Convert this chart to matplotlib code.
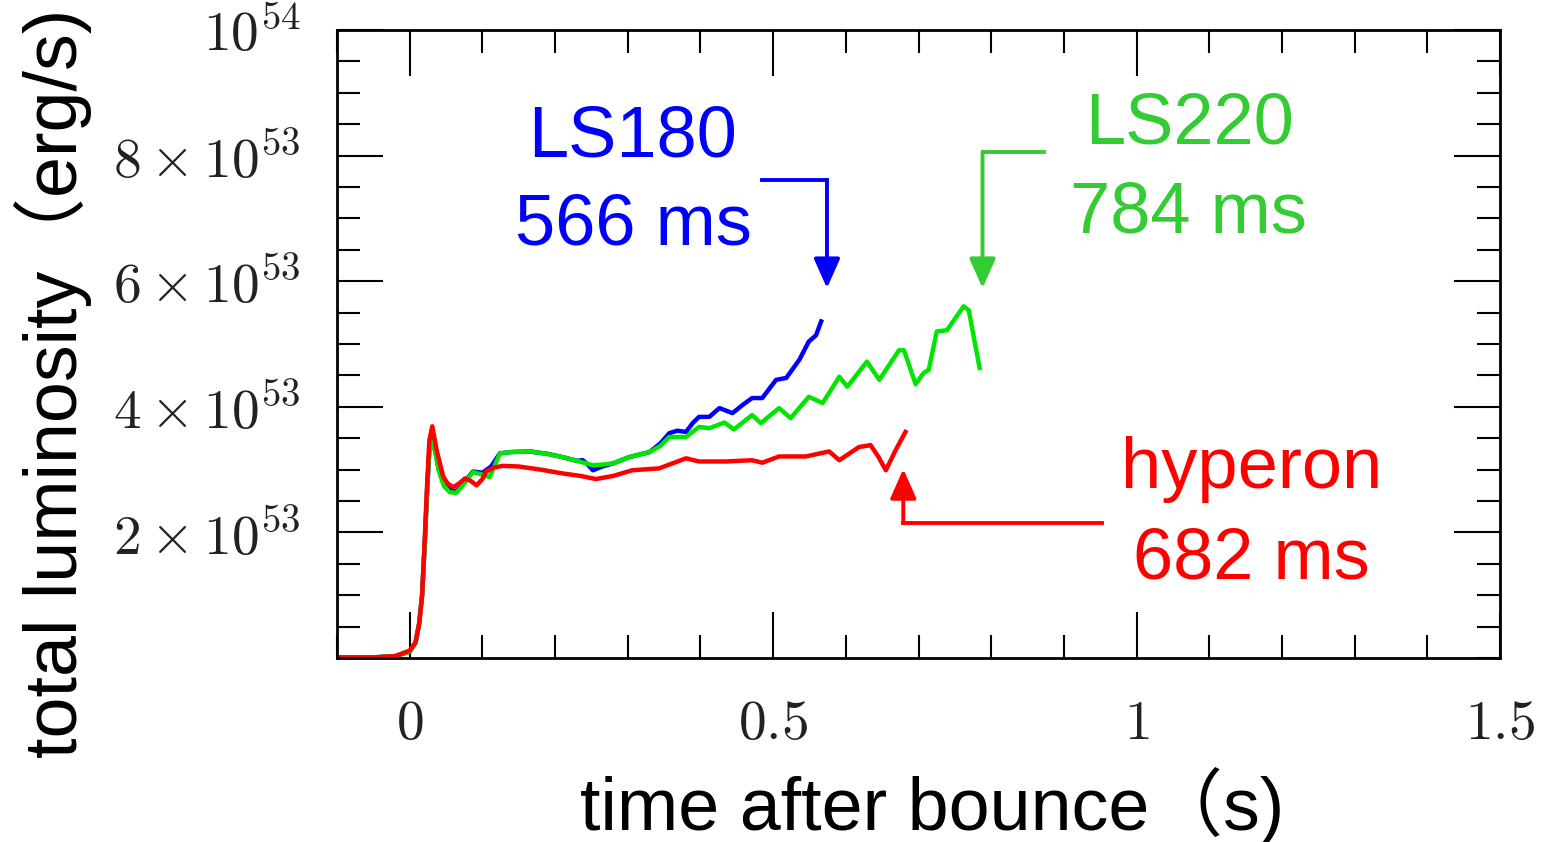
import matplotlib
matplotlib.use('Agg')
import matplotlib.pyplot as plt
from matplotlib.ticker import MultipleLocator, FixedLocator, FixedFormatter

plt.rcParams['mathtext.fontset'] = 'cm'
sans = ['Liberation Sans', 'Noto Sans CJK JP', 'DejaVu Sans']

# time after bounce (s) and total luminosity (1e53 erg/s)
t_ls180 = [-0.1, -0.05, -0.02, 0.0, 0.008, 0.013, 0.017, 0.021, 0.024, 0.027,
           0.031, 0.035, 0.04, 0.047, 0.055, 0.064, 0.075, 0.087, 0.1, 0.112,
           0.124, 0.14, 0.165, 0.19, 0.21, 0.23, 0.238, 0.245, 0.252, 0.265,
           0.28, 0.302, 0.33, 0.345, 0.357, 0.368, 0.38, 0.39, 0.398, 0.412,
           0.426, 0.444, 0.458, 0.471, 0.485, 0.504, 0.518, 0.536, 0.549,
           0.559, 0.566]
L_ls180 = [0.01, 0.01, 0.03, 0.10, 0.25, 0.55, 1.0, 1.9, 2.7, 3.3,
           3.48, 3.3, 3.0, 2.78, 2.68, 2.65, 2.8, 2.97, 2.95, 3.05,
           3.26, 3.28, 3.29, 3.25, 3.2, 3.14, 3.15, 3.08, 2.99, 3.05,
           3.1, 3.2, 3.28, 3.42, 3.58, 3.62, 3.6, 3.75, 3.84, 3.84,
           3.98, 3.9, 4.03, 4.14, 4.14, 4.43, 4.46, 4.75, 5.04,
           5.14, 5.36]

t_ls220 = [-0.1, -0.05, -0.02, 0.0, 0.008, 0.013, 0.017, 0.021, 0.024, 0.027,
           0.031, 0.035, 0.04, 0.047, 0.055, 0.064, 0.075, 0.087, 0.1, 0.11,
           0.124, 0.14, 0.165, 0.19, 0.21, 0.23, 0.252, 0.265, 0.28, 0.302,
           0.33, 0.345, 0.357, 0.38, 0.398, 0.412, 0.433, 0.446, 0.471, 0.483,
           0.508, 0.524, 0.549, 0.568, 0.591, 0.602, 0.629, 0.646, 0.673, 0.68,
           0.696, 0.707, 0.714, 0.725, 0.739, 0.762, 0.769, 0.784]
L_ls220 = [0.01, 0.01, 0.03, 0.10, 0.25, 0.55, 1.0, 1.9, 2.7, 3.3,
           3.45, 3.28, 2.98, 2.74, 2.64, 2.63, 2.78, 2.96, 2.92, 2.88,
           3.26, 3.28, 3.29, 3.25, 3.2, 3.14, 3.07, 3.08, 3.1, 3.2,
           3.28, 3.38, 3.52, 3.52, 3.68, 3.66, 3.75, 3.64, 3.87, 3.74,
           3.98, 3.82, 4.16, 4.06, 4.48, 4.32, 4.72, 4.43, 4.9, 4.9,
           4.36, 4.54, 4.59, 5.2, 5.22, 5.6, 5.54, 4.62]

t_hyp = [-0.1, -0.05, -0.02, 0.0, 0.008, 0.013, 0.017, 0.021, 0.024, 0.027,
         0.031, 0.037, 0.046, 0.052, 0.06, 0.068, 0.076, 0.084, 0.092, 0.1,
         0.105, 0.115, 0.128, 0.15, 0.18, 0.21, 0.235, 0.256, 0.28, 0.306,
         0.343, 0.38, 0.398, 0.435, 0.471, 0.485, 0.508, 0.545, 0.577, 0.591,
         0.618, 0.634, 0.645, 0.655, 0.668, 0.682]
L_hyp = [0.01, 0.01, 0.03, 0.12, 0.25, 0.55, 1.0, 1.99, 2.79, 3.47,
         3.69, 3.31, 2.89, 2.78, 2.72, 2.78, 2.86, 2.82, 2.75, 2.85,
         2.97, 3.03, 3.06, 3.05, 3.0, 2.94, 2.9, 2.85, 2.9, 2.99,
         3.02, 3.18, 3.13, 3.13, 3.15, 3.11, 3.21, 3.21, 3.29, 3.15,
         3.36, 3.39, 3.2, 2.99, 3.3, 3.6]

y_ticks = [2, 4, 6, 8, 10]
y_ticklabels = [r'$2\times10^{53}$', r'$4\times10^{53}$', r'$6\times10^{53}$',
                r'$8\times10^{53}$', r'$10^{54}$']
x_ticks = [0, 0.5, 1, 1.5]
x_ticklabels = [r'$0$', r'$0.5$', r'$1$', r'$1.5$']

blue = '#0000ff'
green_line = '#00e600'
green_text = '#33cc33'
red = '#ff0000'

fig = plt.figure(figsize=(15.59, 8.42), dpi=100)
ax = fig.add_axes([0.2162, 0.2185, 0.7460, 0.7458])

ax.plot(t_ls180, L_ls180, color=blue, lw=3.2)
ax.plot(t_ls220, L_ls220, color=green_line, lw=3.2)
ax.plot(t_hyp, L_hyp, color=red, lw=3.2)

ax.set_xlim(-0.1, 1.5)
ax.set_ylim(0, 10)
ax.xaxis.set_major_locator(FixedLocator(x_ticks))
ax.xaxis.set_major_formatter(FixedFormatter(x_ticklabels))
ax.xaxis.set_minor_locator(MultipleLocator(0.1))
ax.yaxis.set_major_locator(FixedLocator(y_ticks))
ax.yaxis.set_major_formatter(FixedFormatter(y_ticklabels))
ax.yaxis.set_minor_locator(MultipleLocator(0.5))
ax.tick_params(which='both', direction='in', top=True, right=True,
               width=1.5, color='black', labelcolor='#222222')
ax.tick_params(which='major', length=33, labelsize=40)
ax.tick_params(which='minor', length=16.5)
ax.tick_params(axis='y', pad=26)
ax.tick_params(axis='x', pad=28)
for sp in ax.spines.values():
    sp.set_linewidth(2)

# annotation arrows (L-shaped)
def bent_arrow(p0, corner, tip, color):
    ax.plot([p0[0], corner[0]], [p0[1], corner[1]], color=color, lw=2.8,
            solid_capstyle='projecting')
    ax.annotate('', xy=tip, xytext=corner,
                arrowprops=dict(arrowstyle='-|>,head_length=0.9,head_width=0.4',
                                color=color, lw=2.8, mutation_scale=20,
                                shrinkA=0, shrinkB=0))

bent_arrow((0.485, 7.61), (0.574, 7.61), (0.574, 5.89), blue)
bent_arrow((0.872, 8.06), (0.788, 8.06), (0.788, 5.89), green_text)
bent_arrow((0.952, 2.15), (0.679, 2.15), (0.679, 3.01), red)

lab = dict(fontsize=52, family=sans, ha='center', va='baseline')
ax.text(0.306, 7.99, 'LS180', color=blue, **lab)
ax.text(0.308, 6.58, '566 ms', color=blue, **lab)
ax.text(1.073, 8.20, 'LS220', color=green_text, **lab)
ax.text(1.071, 6.78, '784 ms', color=green_text, **lab)
ax.text(1.158, 2.71, 'hyperon', color=red, **lab)
ax.text(1.158, 1.27, '682 ms', color=red, **lab)

fig.text(932 / 1559, 1 - 830 / 842, 'time after bounce（s)', fontsize=53,
         family=sans, ha='center', va='baseline')
fig.text(77 / 1559, 1 - 383 / 842, 'total luminosity（erg/s)', fontsize=53,
         family=sans, ha='center', va='baseline', rotation=90,
         rotation_mode='anchor')

fig.savefig('out.png', dpi=100)
